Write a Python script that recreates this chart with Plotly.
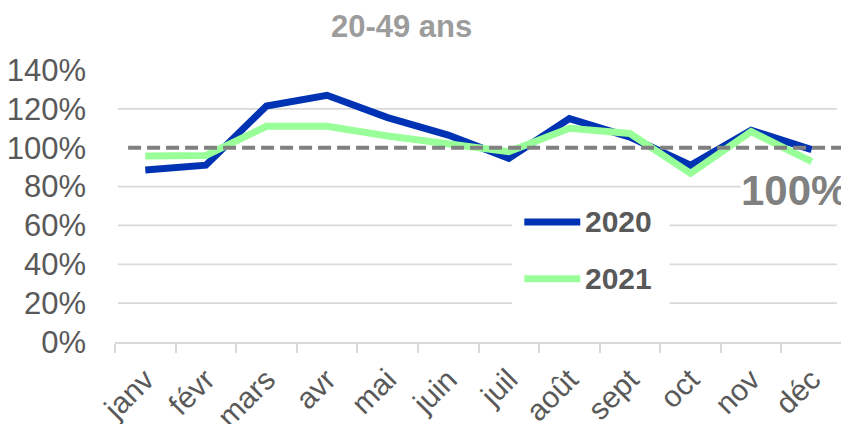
import plotly.graph_objects as go

months = ["janv", "févr", "mars", "avr", "mai", "juin", "juil", "août", "sept", "oct", "nov", "déc"]
values_2020 = [88.5, 91, 121.5, 127, 115.5, 106.5, 94.5, 115, 105.5, 91, 109, 99]
values_2021 = [95.7, 96, 111, 111, 106, 102, 98, 110, 107.3, 86.8, 108.3, 92.8]
series_names = ["2020", "2021"]
series_colors = ["#0033B3", "#99FF99"]
ref_value = 100
ref_label = "100%"
y_ticks = [0, 20, 40, 60, 80, 100, 120, 140]
grid_values = [20, 40, 60, 80, 120]
title_text = "20-49 ans"

FONT = "Liberation Sans, Arial, sans-serif"
GRID = "#D9D9D9"
TXT = "#595959"

fig = go.Figure()
for name, vals, col in zip(series_names, [values_2020, values_2021], series_colors):
    fig.add_trace(go.Scatter(x=months, y=vals, mode="lines", name=name,
                             line=dict(color=col, width=7), showlegend=False))

shapes = []
for g in grid_values:
    shapes.append(dict(type="line", xref="paper", yref="y", x0=0.004, x1=0.993, y0=g, y1=g,
                       line=dict(color=GRID, width=1.7), layer="below"))
# legend box (white) over gridlines
shapes.append(dict(type="rect", xref="paper", yref="paper", x0=0.546, x1=0.763, y0=0.1, y1=0.54,
                   fillcolor="white", line=dict(width=0), layer="below"))
# reference dashed line
shapes.append(dict(type="line", xref="paper", yref="y", x0=0.018, x1=1.01, y0=ref_value, y1=ref_value,
                   line=dict(color="#808080", width=4, dash="13px,6px"), layer="above"))

# manual legend
legend_y = [61.8, 32.5]
annotations = []
for name, col, ly in zip(series_names, series_colors, legend_y):
    shapes.append(dict(type="line", xref="paper", yref="y", x0=0.563, x1=0.64, y0=ly, y1=ly,
                       line=dict(color=col, width=7), layer="above"))
    annotations.append(dict(xref="paper", yref="y", x=0.644, y=ly, text="<b>%s</b>" % name,
                            showarrow=False, xanchor="left", yanchor="middle",
                            font=dict(family=FONT, size=30, color=TXT)))

annotations.append(dict(xref="paper", yref="paper", x=1.0095, y=0.557, text="<b>%s</b>" % ref_label,
                        showarrow=False, xanchor="right", yanchor="middle",
                        font=dict(family=FONT, size=42, color="#808080"),
                        bgcolor="white", borderpad=0))

# the page body adds an 8px offset; the figure is sized to fill the rest of the window
fig.update_layout(
    width=841, height=416,
    margin=dict(l=107, r=7, t=62, b=82, autoexpand=False),
    paper_bgcolor="white", plot_bgcolor="white",
    font=dict(family=FONT, color=TXT),
    title=dict(text="<b>%s</b>" % title_text, x=0.468, y=0.957, xanchor="center", yanchor="middle",
               font=dict(family=FONT, size=31, color="#9C9C9C")),
    shapes=shapes, annotations=annotations,
    showlegend=False,
    xaxis=dict(type="category", categoryorder="array", categoryarray=months,
               range=[-0.5, 11.5], showgrid=False, zeroline=False, automargin=False,
               showline=True, linecolor=GRID, linewidth=2,
               ticks="outside", tickson="boundaries", ticklen=9, tickcolor=GRID, tickwidth=2,
               ticklabelstandoff=6,
               tickangle=-45, tickfont=dict(family=FONT, size=30, color=TXT)),
    yaxis=dict(range=[0, 140], tickvals=y_ticks, ticktext=["%d%%" % v for v in y_ticks],
               showgrid=False, zeroline=False, showline=False, ticks="", automargin=False,
               ticklabelstandoff=28,
               tickfont=dict(family=FONT, size=31, color=TXT)),
)

fig.write_html("out.html")
